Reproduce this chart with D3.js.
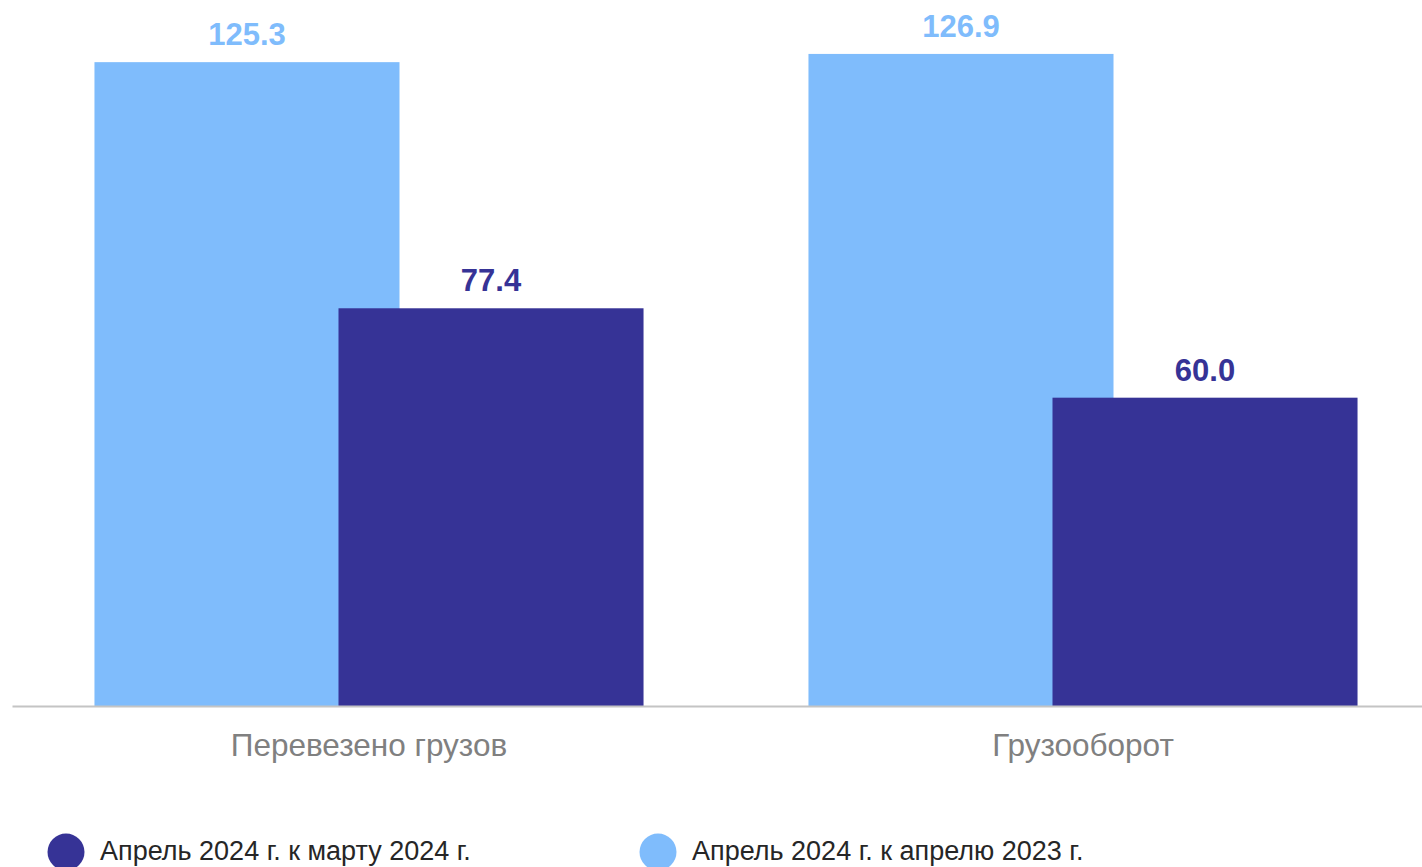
<!DOCTYPE html>
<html>
<head>
<meta charset="utf-8">
<script src="https://cdn.jsdelivr.net/npm/d3@7"></script>
<style>
  body { margin: 0; background: #fff; }
  svg { display: block; font-family: "Liberation Sans", Arial, sans-serif; }
</style>
</head>
<body>
<div id="chart"></div>
<script>
var categories = ["Перевезено грузов", "Грузооборот"];
var seriesNames = ["Апрель 2024 г. к апрелю 2023 г.", "Апрель 2024 г. к марту 2024 г."];
var seriesColors = ["#7fbcfc", "#363396"];
var toLastYear = [125.3, 126.9];
var toLastMonth = [77.4, 60.0];
var legendOrder = [1, 0];

var width = 1422, height = 867;
var baseline = 706;

var svg = d3.select("#chart")
  .append("svg")
    .attr("width", width)
    .attr("height", height);

// group scale, runs a bit past the right edge like the original
var x0 = d3.scaleBand()
    .domain(categories)
    .range([12, 1440])
    .paddingInner(0.231)
    .paddingOuter(0.1155);

var overlap = 0.2;
var barW = x0.bandwidth() / (2 - overlap);

var y = d3.scaleLinear()
    .domain([0, 130])
    .range([baseline, 38]);

var values = [toLastYear, toLastMonth];

var rows = [];
values.forEach(function(arr, s) {
  arr.forEach(function(v, i) {
    rows.push({cat: categories[i], s: s, v: v});
  });
});

function barX(d) {
  return x0(d.cat) + (d.s === 0 ? 0 : x0.bandwidth() - barW);
}

svg.selectAll("rect.bar")
  .data(rows)
  .enter()
  .append("rect")
    .attr("class", "bar")
    .attr("x", barX)
    .attr("y", function(d) { return y(d.v); })
    .attr("width", barW)
    .attr("height", function(d) { return baseline - y(d.v); })
    .style("fill", function(d) { return seriesColors[d.s]; });

svg.selectAll("text.val")
  .data(rows)
  .enter()
  .append("text")
    .attr("class", "val")
    .attr("x", function(d) { return barX(d) + barW / 2; })
    .attr("y", function(d) { return y(d.v) - 17; })
    .attr("text-anchor", "middle")
    .style("font-size", "31px")
    .style("font-weight", "bold")
    .style("fill", function(d) { return seriesColors[d.s]; })
    .text(function(d) { return d.v.toFixed(1); });

// x axis
var xAxis = svg.append("g")
    .attr("transform", "translate(0," + baseline + ")")
    .call(d3.axisBottom(x0).tickSize(0).tickSizeOuter(0));

xAxis.select(".domain")
    .attr("stroke", "#c4c4c4")
    .attr("stroke-width", 2);

xAxis.selectAll(".tick text")
    .attr("dy", 0)
    .attr("y", 50)
    .style("font-family", "'Liberation Sans', Arial, sans-serif")
    .style("font-size", "31.5px")
    .style("fill", "#808080");

// legend
var legendX = [66, 658];
var legend = svg.selectAll("g.legend")
  .data(legendOrder)
  .enter()
  .append("g")
    .attr("class", "legend")
    .attr("transform", function(d, i) { return "translate(" + legendX[i] + ",852)"; });

legend.append("circle")
    .attr("r", 18.5)
    .style("fill", function(d) { return seriesColors[d]; });

legend.append("text")
    .attr("x", 34)
    .attr("y", 8)
    .style("font-size", "27px")
    .style("fill", "#262626")
    .text(function(d) { return seriesNames[d]; });
</script>
</body>
</html>
